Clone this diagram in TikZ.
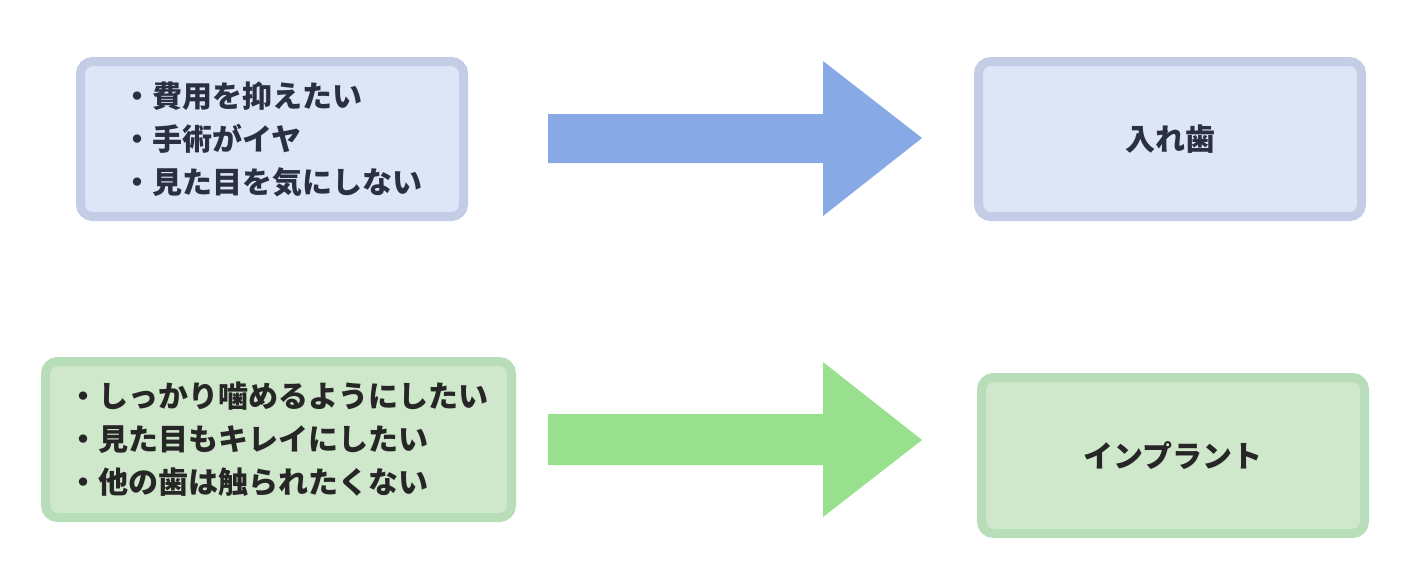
\documentclass[tikz,border=0pt]{standalone}
\usepackage{fontspec}
\newfontfamily\jp{Noto Sans CJK JP}
\usepackage{tikz}
\definecolor{blueline}{HTML}{C3CDE5}
\definecolor{bluefill}{HTML}{DCE6F7}
\definecolor{greenline}{HTML}{B8DDB9}
\definecolor{greenfill}{HTML}{CFE7CA}
\definecolor{bluearrow}{HTML}{87A9E6}
\definecolor{greenarrow}{HTML}{98E08D}
\definecolor{ink}{HTML}{2B3040}
\tikzset{
  box/.style={rounded corners=6pt, line width=4.5pt, text=ink, align=left,
    font=\jp\bfseries\fontsize{15}{21.5}\selectfont},
  bluebox/.style={box, draw=blueline, fill=bluefill},
  greenbox/.style={box, draw=greenline, fill=greenfill, text=black!85}
}
\begin{document}
\begin{tikzpicture}[x=0.5pt, y=-0.5pt]
  \useasboundingbox (0,0) rectangle (1406,574);
  % Top row
  \node[bluebox, minimum width=191.5pt, minimum height=77.5pt] (cheap) at (272,139)
    {・費用を抑えたい\\・手術がイヤ\\・見た目を気にしない};
  \node[bluebox, minimum width=191.5pt, minimum height=77.5pt] (denture) at (1170,139) {入れ歯};
  \fill[bluearrow] (548,114) -- (823,114) -- (823,61) -- (922,138) -- (823,216)
    -- (823,163) -- (548,163) -- cycle;
  % Bottom row
  \node[greenbox, minimum width=233pt, minimum height=78pt] (bite) at (278.5,439.5)
    {・しっかり噛めるようにしたい\\・見た目もキレイにしたい\\・他の歯は触られたくない};
  \node[greenbox, minimum width=191.5pt, minimum height=78pt] (implant) at (1173,455.5) {インプラント};
  \fill[greenarrow] (548,414) -- (823,414) -- (823,362) -- (922,440) -- (823,517)
    -- (823,465) -- (548,465) -- cycle;
\end{tikzpicture}
\end{document}
